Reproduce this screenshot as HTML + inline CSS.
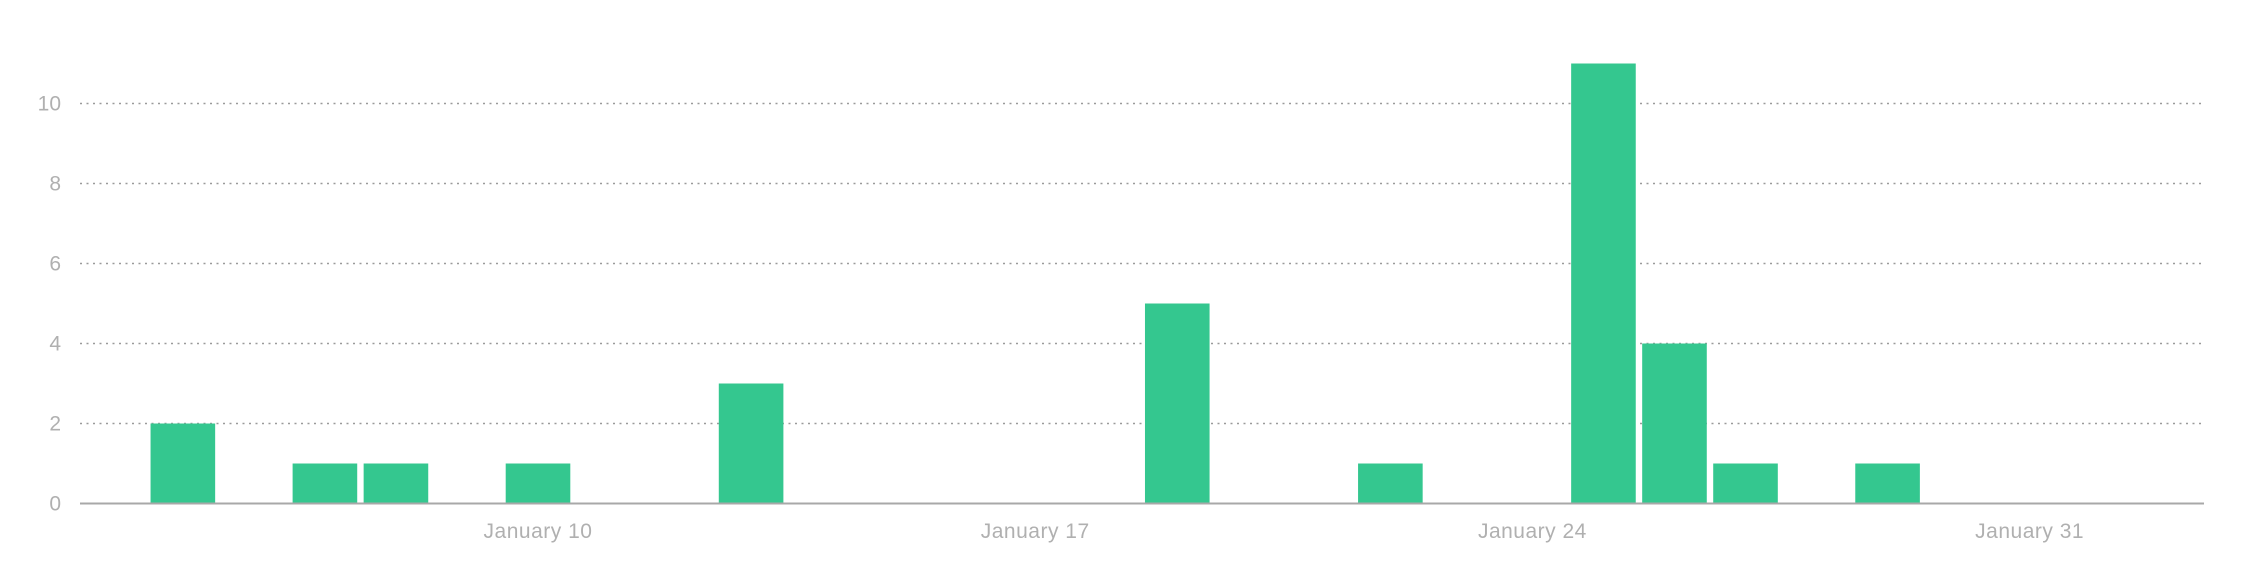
<!DOCTYPE html>
<html><head><meta charset="utf-8"><style>
html,body{margin:0;padding:0;background:#fff;}
svg{display:block;font-family:"Liberation Sans",sans-serif;}
</style></head><body>
<svg id="chart" width="2250" height="564" viewBox="0 0 2250 564" xmlns="http://www.w3.org/2000/svg"></svg>
<script>
const days = [5, 7, 8, 10, 13, 19, 22, 25, 26, 27, 29];
const counts = [2, 1, 1, 1, 3, 5, 1, 11, 4, 1, 1];
const yTicks = [0, 2, 4, 6, 8, 10];
const xTickDays = [10, 17, 24, 31];
const xTickLabels = ["January 10", "January 17", "January 24", "January 31"];

const NS = "http://www.w3.org/2000/svg";
const svg = document.getElementById('chart');
const plotL = 80, plotR = 2204, baseY = 503.5, unitPx = 40;
const dayW = 71.03, barW = 64.6;
function x(d){ return 538 + (d - 10) * dayW; }
function y(v){ return baseY - v * unitPx; }
function mk(tag, attrs){ const e = document.createElementNS(NS, tag); for (const k in attrs) e.setAttribute(k, attrs[k]); svg.appendChild(e); return e; }

yTicks.forEach((t) => {
  if (t > 0) {
    const g = mk('line', {x1: plotL, x2: plotR, y1: y(t), y2: y(t), stroke: '#9a9a9a', 'stroke-width': 1.5, 'stroke-dasharray': '2 4.5'});
    
    
  }
  const lbl = mk('text', {x: 61, y: y(t) + 7, 'text-anchor': 'end', 'font-size': 21, fill: '#b0b0b0'});
  lbl.textContent = t;
  
  
});

days.forEach((d, i) => {
  const r = mk('rect', {x: x(d) - barW / 2, y: y(counts[i]), width: barW, height: baseY - y(counts[i]), fill: '#34c78f'});
  
  
});

const axis = mk('line', {x1: plotL, x2: plotR, y1: baseY, y2: baseY, stroke: '#a8a8a8', 'stroke-width': 2});



xTickDays.forEach((d, i) => {
  const t = mk('text', {x: x(d), y: 538, 'text-anchor': 'middle', 'font-size': 21, fill: '#b0b0b0', 'letter-spacing': '0.5'});
  t.textContent = xTickLabels[i];
  
  
});
</script>
</body></html>
